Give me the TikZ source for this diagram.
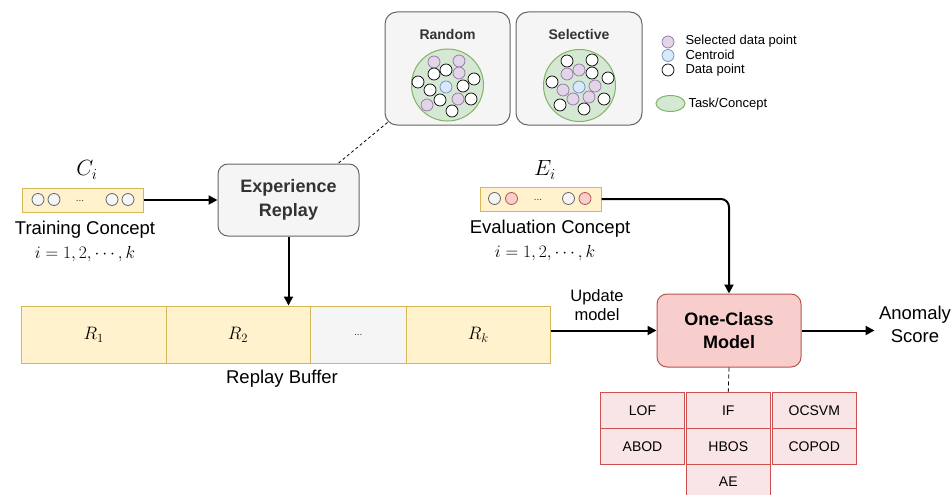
\RequirePackage{fix-cm}
\documentclass[tikz,border=0pt]{standalone}
\usepackage{fontspec}
\setmainfont{Liberation Sans}
\usetikzlibrary{arrows.meta,positioning,shapes.geometric}

\definecolor{grayfill}{HTML}{F5F5F5}
\definecolor{graydraw}{HTML}{666666}
\definecolor{darktext}{HTML}{333333}
\definecolor{yellowfill}{HTML}{FFF2CC}
\definecolor{yellowdraw}{HTML}{D6B656}
\definecolor{redfill}{HTML}{F8CECC}
\definecolor{reddraw}{HTML}{B85450}
\definecolor{pinkfill}{HTML}{F9E5E5}
\definecolor{pinkdraw}{HTML}{CC5050}
\definecolor{greenfill}{HTML}{D5E8D4}
\definecolor{greendraw}{HTML}{82B366}
\definecolor{purplefill}{HTML}{E1D5E7}
\definecolor{purpledraw}{HTML}{9673A6}
\definecolor{bluefill}{HTML}{DAE8FC}
\definecolor{bluedraw}{HTML}{6C8EBF}

\tikzset{
  sampbox/.style={draw=graydraw, fill=grayfill, rounded corners=12pt, line width=1pt},
  taskpool/.style={circle, draw=greendraw, fill=greenfill, line width=1pt, minimum size=72pt, inner sep=0pt},
  datdot/.style={circle, draw=black, fill=white, line width=0.7pt, minimum size=12pt, inner sep=0pt},
  seldot/.style={datdot, draw=purpledraw, fill=purplefill},
  cendot/.style={datdot, draw=bluedraw, fill=bluefill},
  conceptbar/.style={draw=yellowdraw, fill=yellowfill, line width=1pt, minimum width=121pt, minimum height=24pt},
  graydot/.style={circle, draw=graydraw, fill=grayfill, line width=0.8pt, minimum size=12pt, inner sep=0pt},
  reddot/.style={graydot, draw=reddraw, fill=redfill},
  bufcell/.style={draw=yellowdraw, fill=yellowfill, line width=1pt, minimum height=57pt, inner sep=0pt, font=\fontsize{18}{20}\selectfont},
  algo/.style={draw=pinkdraw, fill=pinkfill, line width=1pt, minimum width=84.5pt, minimum height=36pt, inner sep=0pt, font=\fontsize{14}{16}\selectfont},
  lbl/.style={font=\fontsize{18.5}{23}\selectfont, align=center},
  legend/.style={anchor=west, font=\fontsize{13}{15}\selectfont, inner sep=0pt},
  tiny/.style={font=\fontsize{10}{12}\selectfont, text=darktext},
  flow/.style={->, line width=2pt}
}

\begin{document}
\begin{tikzpicture}[x=1pt, y=-1pt, line width=1pt, >={Triangle[length=9pt,width=9pt]}]
      \useasboundingbox (0,0) rectangle (951,495);

      \node[sampbox, minimum width=125pt, minimum height=113pt] (random) at (447.5,68.5) {};
      \node[sampbox, minimum width=126pt, minimum height=113pt] (selective) at (579,68.5) {};
      \node[font=\bfseries\fontsize{14}{16}\selectfont, text=darktext] (randomt) at (447.5,34) {Random};
      \node[font=\bfseries\fontsize{14}{16}\selectfont, text=darktext] (selectivet) at (579,34) {Selective};
      \node[taskpool] (rpool) at (447.5,85) {};
      \node[taskpool] (spool) at (579.5,85.5) {};

      \foreach \x/\y/\s [count=\i] in {434/62/seldot, 459/61/seldot, 446/70/datdot, 434/74/datdot,
          459/73/seldot, 418/82/datdot, 474/79/datdot, 446/87/cendot, 430/90/datdot, 463/86/datdot,
          440/100/datdot, 458/99/seldot, 471/99/datdot, 427/105/seldot, 452/111/datdot}
        \node[\s] (r\i) at (\x,\y) {};
      \foreach \x/\y/\s [count=\i] in {567/61/datdot, 592/60/datdot, 567/74/seldot, 579/70/seldot,
          592/73/datdot, 552/82/datdot, 608/78/datdot, 579/87/cendot, 563/90/seldot, 595/86/seldot,
          573/99/seldot, 589/97/seldot, 604/99/datdot, 560/105/datdot, 584/109/datdot}
        \node[\s] (s\i) at (\x,\y) {};

      \node[seldot] (lsel) at (668,42) {};
      \node[cendot] (lcen) at (668,55.5) {};
      \node[datdot] (ldat) at (668,70) {};
      \node[ellipse, draw=greendraw, fill=greenfill, line width=1pt, minimum width=29pt, minimum height=16pt, inner sep=0pt] (ltask) at (670.5,103.5) {};
      \node[legend] (lselt) at (685,41) {Selected data point};
      \node[legend] (lcent) at (685,55) {Centroid};
      \node[legend] (ldatt) at (685,70) {Data point};
      \node[legend] (ltaskt) at (688,104) {Task/Concept};

      \node[conceptbar] (train) at (82.5,200) {};
      \node[graydot] (t1) at (38,199.5) {};
      \node[graydot] (t2) at (54,199.5) {};
      \node[tiny] (tdots) at (80,201) {...};
      \node[graydot] (t3) at (112,199.5) {};
      \node[graydot] (t4) at (128,199.5) {};
      \node[font=\fontsize{22}{24}\selectfont] (ci) at (87,170) {$C_i$};
      \node[lbl] (traint) at (85,230) {Training Concept};
      \node[font=\fontsize{17.5}{20}\selectfont] (traini) at (85,254.5) {$i=1,2,\cdots,k$};

      \node[conceptbar] (eval) at (540.5,199) {};
      \node[graydot] (e1) at (494.5,198.5) {};
      \node[reddot] (e2) at (511.5,198.5) {};
      \node[tiny] (edots) at (538,200) {...};
      \node[graydot] (e3) at (568.5,198.5) {};
      \node[reddot] (e4) at (585,198.5) {};
      \node[font=\fontsize{22}{24}\selectfont] (ei) at (545,170) {$E_i$};
      \node[lbl] (evalt) at (550,229) {Evaluation Concept};
      \node[font=\fontsize{17.5}{20}\selectfont] (evali) at (545,253.5) {$i=1,2,\cdots,k$};

      \node[sampbox, rounded corners=10pt, minimum width=141pt, minimum height=72pt, align=center,
        font=\bfseries\fontsize{18}{24}\selectfont, text=darktext] (exp) at (288.5,200) {Experience\\Replay};

      \node[bufcell, minimum width=144.5pt] (buf1) at (93.75,334.5) {$R_1$};
      \node[bufcell, minimum width=144pt] (buf2) at (238,334.5) {$R_2$};
      \node[bufcell, minimum width=96.5pt, fill=grayfill, font=\fontsize{10}{12}\selectfont, text=darktext] (buf3) at (358.25,334.5) {...};
      \node[bufcell, minimum width=143.5pt] (buf4) at (478.25,334.5) {$R_k$};
      \node[lbl] (buft) at (282,379) {Replay Buffer};

      \node[draw=reddraw, fill=redfill, rounded corners=10pt, minimum width=144pt, minimum height=73pt, align=center,
        font=\bfseries\fontsize{18}{23}\selectfont] (model) at (729,330.5) {One-Class\\Model};
      \node[font=\fontsize{16.5}{19}\selectfont, align=center] (update) at (597,305.5) {Update\\model};
      \node[lbl, inner sep=4pt] (score) at (915,324.5) {Anomaly\\Score};

      \node[algo] (lof) at (642.5,410.3) {LOF};
      \node[algo] (ifm) at (728.3,410.3) {IF};
      \node[algo] (ocsvm) at (814.3,410.3) {OCSVM};
      \node[algo] (abod) at (642.5,446.2) {ABOD};
      \node[algo] (hbos) at (728.3,446.2) {HBOS};
      \node[algo] (copod) at (814.3,446.2) {COPOD};
      \node[algo] (ae) at (728.3,482) {AE};

      \draw[flow] (train) -- (exp);
      \draw[flow] (exp) -- (exp |- buf2.north);
      \draw[line width=0.8pt, dash pattern=on 3pt off 2.5pt] ([shift={(3,-3)}]random.south west) -- ([xshift=49.5pt]exp.north);
      \draw[flow, rounded corners=8pt] (eval.east) -- (model.north |- eval.east) -- (model.north);
      \draw[flow] (buf4.east |- model.west) -- (model.west);
      \draw[flow] (model.east) -- (score.west |- model.east);
      \draw[line width=0.8pt, dash pattern=on 4pt off 3pt] (model.south) -- (ifm.north);
    \end{tikzpicture}
\end{document}
